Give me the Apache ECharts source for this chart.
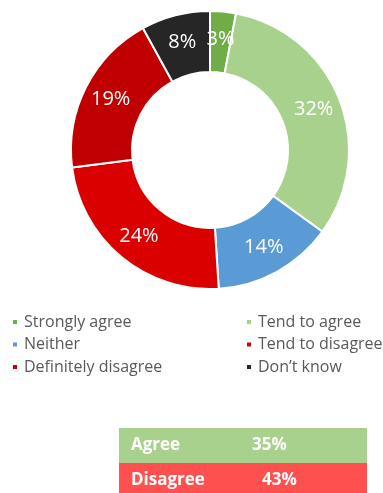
<!DOCTYPE html>
<html>
<head>
<meta charset="utf-8">
<script src="https://cdn.jsdelivr.net/npm/echarts@6/dist/echarts.min.js"></script>
<style>
  html, body { margin: 0; padding: 0; background: #ffffff; }
  #chart { width: 383px; height: 493px; }
</style>
</head>
<body>
<div id="chart"></div>
<script>
// Survey responses, percent of respondents
const categories = ['Strongly agree', 'Tend to agree', 'Neither', 'Tend to disagree', 'Definitely disagree', 'Don\u2019t know'];
const values = [3, 32, 14, 24, 19, 8];
const colors = ['#70AD47', '#A9D18E', '#5B9BD5', '#DA0000', '#C00000', '#262626'];

// Legend columns
const legendLeft = ['Strongly agree', 'Neither', 'Definitely disagree'];
const legendRight = ['Tend to agree', 'Tend to disagree', 'Don\u2019t know'];

// Summary rows: which categories roll up into each line
const summaryRows = [
  { name: 'Agree', members: ['Strongly agree', 'Tend to agree'], color: '#A9D18E' },
  { name: 'Disagree', members: ['Tend to disagree', 'Definitely disagree'], color: '#FF5050' }
];

const FONT = '"Open Sans", Lato, sans-serif';

const chart = echarts.init(document.getElementById('chart'), null, { renderer: 'canvas' });

const pieData = categories.map((c, i) => ({ name: c, value: values[i], itemStyle: { color: colors[i] } }));

function legendBlock(names, left) {
  return {
    orient: 'vertical',
    left: left,
    top: 314,
    padding: 0,
    data: names,
    icon: 'rect',
    itemWidth: 6,
    itemHeight: 6,
    itemGap: 6.5,
    selectedMode: false,
    textStyle: {
      color: '#595959',
      fontSize: 16,
      lineHeight: 16,
      fontFamily: FONT,
      padding: [0, 0, 0, 1]
    }
  };
}

// Summary table graphics
const rowTop = 428, rowH = 35, tableLeft = 119, tableW = 248;
const graphics = [];
summaryRows.forEach((row, r) => {
  const total = row.members.reduce((s, m) => s + values[categories.indexOf(m)], 0);
  const y = rowTop + r * rowH;
  graphics.push({
    type: 'rect',
    shape: { x: tableLeft, y: y, width: tableW, height: rowH },
    style: { fill: row.color }
  });
  graphics.push({
    type: 'text',
    x: 131, y: y + rowH / 2,
    style: { text: row.name, fill: '#ffffff', font: 'bold 17px ' + FONT, textVerticalAlign: 'middle' }
  });
  graphics.push({
    type: 'text',
    x: r === 0 ? 252 : 262, y: y + rowH / 2,
    style: { text: total + '%', fill: '#ffffff', font: 'bold 17px ' + FONT, textVerticalAlign: 'middle' }
  });
});

chart.setOption({
  backgroundColor: '#ffffff',
  animation: false,
  legend: [legendBlock(legendLeft, 11), legendBlock(legendRight, 245)],
  graphic: graphics,
  series: [{
    type: 'pie',
    center: [210, 150],
    radius: [78, 139],
    startAngle: 90,
    clockwise: true,
    avoidLabelOverlap: false,
    itemStyle: { borderColor: '#ffffff', borderWidth: 2 },
    label: {
      show: true,
      position: 'inside',
      formatter: '{c}%',
      color: '#ffffff',
      fontSize: 20,
      fontFamily: FONT
    },
    labelLine: { show: false },
    emphasis: { disabled: true },
    data: pieData
  }]
});
</script>
</body>
</html>
